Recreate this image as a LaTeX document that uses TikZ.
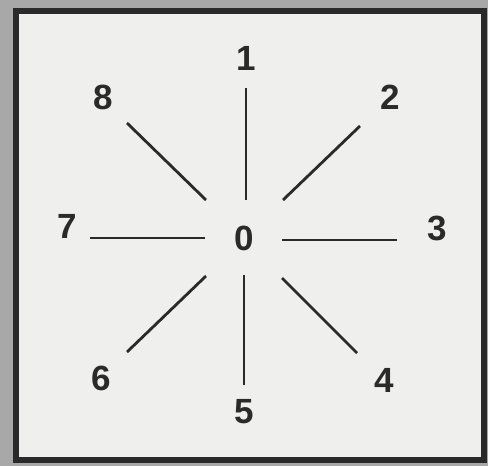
\documentclass[tikz,border=0pt]{standalone}
\usepackage{fontspec}
\setmainfont{Liberation Sans}
\definecolor{outer}{HTML}{A8A8A8}
\definecolor{inner}{HTML}{EFEFED}
\definecolor{ink}{HTML}{2A2A2A}
\begin{document}
\begin{tikzpicture}[x=1pt,y=-1pt,
  ray/.style={draw=ink,line width=2.8pt},
  lbl/.style={text=ink,font=\fontsize{35}{35}\selectfont\bfseries,inner sep=0pt}]
\fill[outer] (0,0) rectangle (488,466);
\useasboundingbox (0,0) rectangle (488,466);
\fill[inner] (16,11) rectangle (484,460);
\draw[ink,line width=5.5pt] (16,11) rectangle (484,460);
\node[lbl] (n0) at (244,238) {0};
\node[lbl] (n1) at (246,58) {1};
\node[lbl] (n2) at (390,97) {2};
\node[lbl] (n3) at (437,228) {3};
\node[lbl] (n4) at (384,380) {4};
\node[lbl] (n5) at (244,412) {5};
\node[lbl] (n6) at (101,378) {6};
\node[lbl] (n7) at (67,226) {7};
\node[lbl] (n8) at (103,97) {8};
\coordinate (a1) at (246,200); \coordinate (b1) at (246,88);
\coordinate (a2) at (283,200); \coordinate (b2) at (360,126);
\coordinate (a3) at (282,240); \coordinate (b3) at (397,240);
\coordinate (a4) at (282,278); \coordinate (b4) at (357,353);
\coordinate (a5) at (244,275); \coordinate (b5) at (244,385);
\coordinate (a6) at (206,276); \coordinate (b6) at (127,352);
\coordinate (a7) at (205,238); \coordinate (b7) at (90,238);
\coordinate (a8) at (206,200); \coordinate (b8) at (127,123);
\foreach \i in {1,...,8} {\draw[ray] (a\i) -- (b\i);}
\end{tikzpicture}
\end{document}
